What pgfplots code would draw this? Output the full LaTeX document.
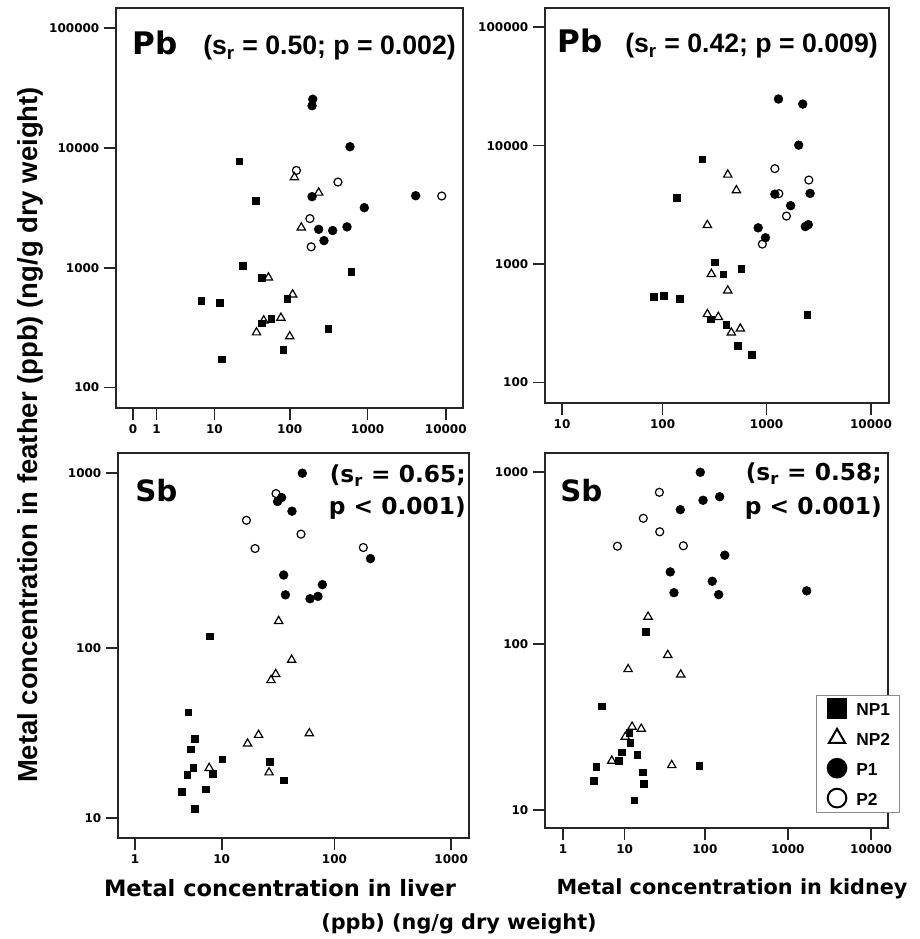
\documentclass[border=0pt]{standalone}
\usepackage{fontspec}
\setmainfont{Liberation Sans}
\newfontfamily\dvs{DejaVu Sans}
\usepackage{pgfplots}
\usepackage{pgfplotstable}
\pgfplotsset{compat=1.18}

\newcommand{\tickf}{\dvs\bfseries\fontsize{9}{10}\selectfont}

% Pb, liver
\pgfplotstableread{
x y
21.9 7750
36.4 3640
24.5 1045
43.6 830
618 926
6.5 534
11.8 514
93 552
57.7 378
43.6 346
313 312
82.6 206
12.7 172
}\PbLivNPa
\pgfplotstableread{
x y
115 5700
236 4240
141 2170
53 830
109 600
77 383
46 364
37 289
100 268
}\PbLivNPb
\pgfplotstableread{
x y
198 25500
194 22500
595 10250
194 3930
4120 4000
907 3180
236 2100
357 2050
545 2200
276 1690
}\PbLivPa
\pgfplotstableread{
x y
122 6500
417 5200
8870 3980
182 2580
189 1500
}\PbLivPb

% Pb, kidney
\pgfplotstableread{
x y
242 7680
138 3620
318 1040
385 824
573 918
82.6 530
103 544
147 510
293 344
411 310
2460 374
529 205
721 171
}\PbKidNPa
\pgfplotstableread{
x y
424 5690
513 4200
270 2140
295 828
424 600
270 379
344 359
560 286
459 265
}\PbKidNPb
\pgfplotstableread{
x y
1300 24700
2220 22400
2030 10100
1200 3900
2610 3960
1700 3120
830 2030
975 1675
2350 2080
2510 2160
}\PbKidPa
\pgfplotstableread{
x y
1200 6400
2540 5130
1310 3940
1550 2550
910 1480
}\PbKidPb

% Sb, liver
\pgfplotstableread{
x y
7.7 117
4.7 42.8
5.5 29.9
5.0 26
10.1 22.7
5.3 20.1
4.6 18.4
8.2 18.5
27.2 21.8
36.2 17
7.0 15
4.0 14.4
5.5 11.4
}\SbLivNPa
\pgfplotstableread{
x y
32.7 143
42.5 85.7
30.8 71
28 65.5
21.7 31.5
60.6 32.2
17.3 28
7.6 20.1
26.9 18.9
}\SbLivNPb
\pgfplotstableread{
x y
52.7 995
32 687
34.7 723
42.8 605
204 325
36.2 262
78.6 231
37.5 202
61.5 192
72 198
}\SbLivPa
\pgfplotstableread{
x y
31 762
16.9 537
51.3 448
20.2 371
177 376
}\SbLivPb

% Sb, kidney
\pgfplotstableread{
x y
18.8 118
4.8 43
11.5 29.9
11.8 26.1
9.2 22.8
14.6 22
8.3 20.2
4 18.6
85.6 18.8
17.3 17.2
17.8 14.6
3.7 15.3
13.3 11.5
}\SbKidNPa
\pgfplotstableread{
x y
20 144
35.2 86
11.1 71
50.8 66
12.5 32.4
16.4 31.5
10.2 28.2
6.7 20.2
39.4 19
}\SbKidNPb
\pgfplotstableread{
x y
88 997
95 686
151 719
50.2 605
174 329
37.8 263
123 232
42 199
147 194
1685 204
}\SbKidPa
\pgfplotstableread{
x y
27.7 763
17.4 539
28 450
8 371
54.7 373
}\SbKidPb

\pgfplotsset{
  every axis/.append style={
    scale only axis, clip=false,
    axis line style={line width=1.2pt, black!85},
    tick style={line width=1.2pt, black!85},
    major tick length=9pt, minor tick length=0pt,
    tick align=outside, tick pos=left,
    ticklabel style={font=\tickf},
  },
  np1/.style={only marks, mark=square*, mark size=2.5pt, black},
  np2/.style={only marks, mark=triangle, mark size=3.6pt, black, line width=0.9pt},
  p1/.style={only marks, mark=*, mark size=3.3pt, black},
  p2/.style={only marks, mark=o, mark size=3pt, black, line width=0.9pt},
}
% the axes are log10(value+1)
\newcommand{\pts}[2]{\addplot[#1] table[x expr=\thisrow{x}+1, y expr=\thisrow{y}+1] {#2};}

\begin{document}
\begin{tikzpicture}
\useasboundingbox (0,0) rectangle (690pt,704.25pt);

\begin{axis}[xmode=log, ymode=log, at={(87pt,398.25pt)}, anchor=south west,
    width=260.25pt, height=300pt,
    xmin=0.607, xmax=16600, ymin=68.1, ymax=146900,
    xtick={1,2,11,101,1001,10001}, xticklabels={0,1,10,100,1000,10000},
    ytick={101,1001,10001,100001}, yticklabels={100,1000,10000,100000}]
\pts{np1}{\PbLivNPa}
\pts{np2}{\PbLivNPb}
\pts{p1}{\PbLivPa}
\pts{p2}{\PbLivPb}
\end{axis}

\begin{axis}[xmode=log, ymode=log, at={(408.75pt,402pt)}, anchor=south west,
    width=258pt, height=296.25pt,
    xmin=7.55, xmax=14890, ymin=67.9, ymax=144500,
    xtick={11,101,1001,10001}, xticklabels={10,100,1000,10000},
    ytick={101,1001,10001,100001}, yticklabels={100,1000,10000,100000}]
\pts{np1}{\PbKidNPa}
\pts{np2}{\PbKidNPb}
\pts{p1}{\PbKidPa}
\pts{p2}{\PbKidPb}
\end{axis}

\begin{axis}[xmode=log, ymode=log, at={(88.5pt,75.75pt)}, anchor=south west,
    width=263.25pt, height=288.75pt,
    xmin=1.432, xmax=1422, ymin=8.45, ymax=1297,
    xtick={2,11,101,1001}, xticklabels={1,10,100,1000},
    ytick={11,101,1001}, yticklabels={10,100,1000}]
\pts{np1}{\SbLivNPa}
\pts{np2}{\SbLivNPb}
\pts{p1}{\SbLivPa}
\pts{p2}{\SbLivPb}
\end{axis}

\begin{axis}[xmode=log, ymode=log, at={(408.75pt,83.25pt)}, anchor=south west,
    width=257.25pt, height=281.25pt,
    xmin=1.216, xmax=15960, ymin=8.65, ymax=1291,
    xtick={2,11,101,1001,10001}, xticklabels={1,10,100,1000,10000},
    ytick={11,101,1001}, yticklabels={10,100,1000},
    legend style={at={(0.79,0.04)}, anchor=south west, draw=black!45,
      line width=0.6pt, fill=white,
      font=\bfseries\fontsize{13}{14}\selectfont,
      inner xsep=6pt, inner ysep=3pt, row sep=7.6pt, nodes={inner sep=1pt}},
    legend cell align=left,
    legend image code/.code={\path[draw=none] (0pt,0pt) -- (23pt,0pt);
      \draw[#1] plot coordinates {(9.5pt,1.6pt)};},
    legend image post style={mark size=7pt, line width=1.5pt}]
\pts{np1}{\SbKidNPa}
\addlegendentry{NP1}
\pts{np2}{\SbKidNPb}
\addlegendentry{NP2}
\pts{p1}{\SbKidPa}
\addlegendentry{P1}
\pts{p2}{\SbKidPb}
\addlegendentry{P2}
\end{axis}

% texts, placed in pixel units of the 920x939 reference
\begin{scope}[shift={(0pt,704.25pt)}, x=0.75pt, y=-0.75pt,
    every node/.style={inner sep=0pt}]
\node[anchor=base west, font=\dvs\bfseries\fontsize{23.3}{26}\selectfont] at (132,55) {Pb};
\node[anchor=base west, font=\bfseries\fontsize{20}{24}\selectfont] at (203,55) {(s\textsubscript{r} = 0.50; p = 0.002)};
\node[anchor=base west, font=\dvs\bfseries\fontsize{23.3}{26}\selectfont] at (557,53) {Pb};
\node[anchor=base west, font=\bfseries\fontsize{20}{24}\selectfont] at (625,53) {(s\textsubscript{r} = 0.42; p = 0.009)};
\node[anchor=base west, font=\dvs\bfseries\fontsize{22}{26}\selectfont] at (135,502) {Sb};
\node[anchor=base east, font=\dvs\bfseries\fontsize{17.5}{20}\selectfont] at (466,483) {(s\textsubscript{r} = 0.65;};
\node[anchor=base east, font=\dvs\bfseries\fontsize{17.5}{20}\selectfont] at (466,515) {p < 0.001)};
\node[anchor=base west, font=\dvs\bfseries\fontsize{22}{26}\selectfont] at (560,502) {Sb};
\node[anchor=base east, font=\dvs\bfseries\fontsize{17.5}{20}\selectfont] at (882,481) {(s\textsubscript{r} = 0.58;};
\node[anchor=base east, font=\dvs\bfseries\fontsize{17.5}{20}\selectfont] at (882,515) {p < 0.001)};
\node[rotate=90, anchor=base, font=\bfseries\fontsize{20.6}{24}\selectfont] at (37,435) {Metal concentration in feather (ppb) (ng/g dry weight)};
\node[anchor=base, font=\dvs\bfseries\fontsize{16.9}{20}\selectfont] at (280,897) {Metal concentration in liver};
\node[anchor=base, font=\dvs\bfseries\fontsize{15.6}{20}\selectfont] at (732,895) {Metal concentration in kidney};
\node[anchor=base, font=\dvs\bfseries\fontsize{15.6}{18}\selectfont] at (459,930) {(ppb) (ng/g dry weight)};
\end{scope}
\end{tikzpicture}
\end{document}
